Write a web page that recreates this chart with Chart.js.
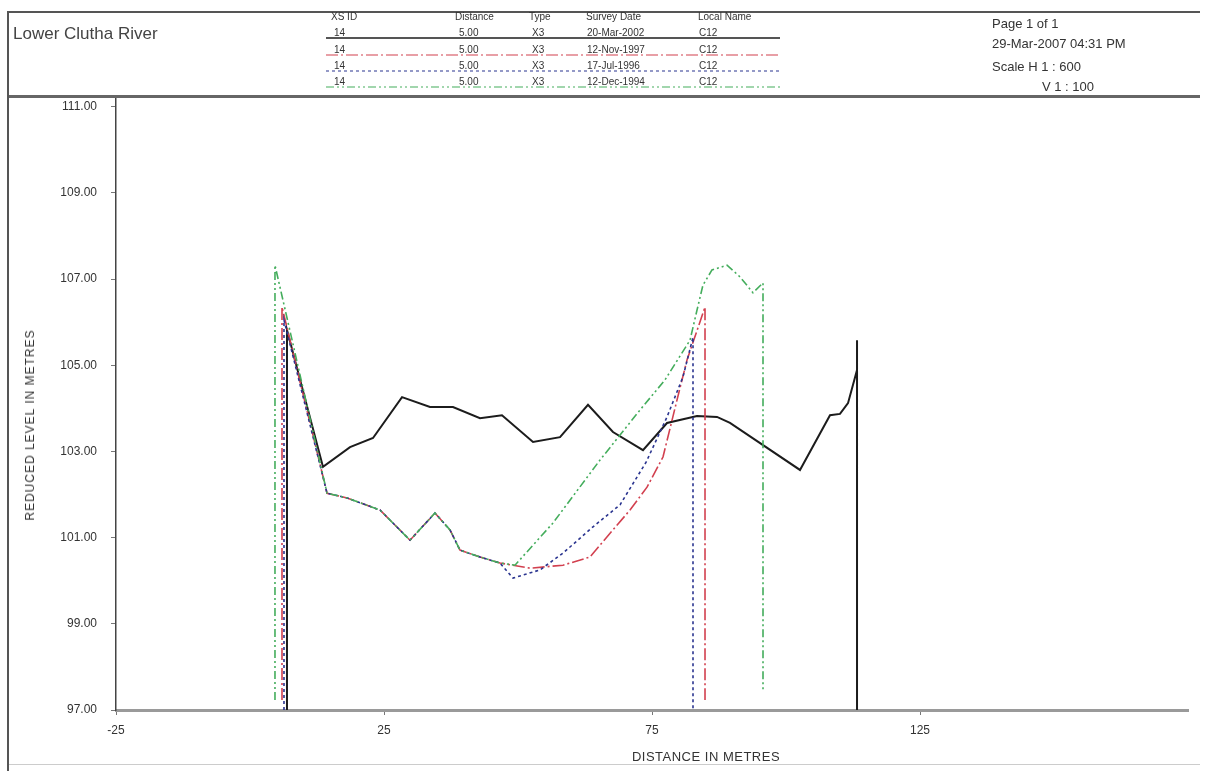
<!DOCTYPE html>
<html>
<head>
<meta charset="utf-8">
<script src="https://cdn.jsdelivr.net/npm/chart.js@4.4.1/dist/chart.umd.min.js"></script>
<style>
  body { margin: 0; background: #fff; font-family: "Liberation Sans", Arial, sans-serif; color: #333; }
  #page { position: relative; width: 1206px; height: 771px; overflow: hidden; }
  #chart { position: absolute; left: 0; top: 0; }
  .rule { position: absolute; background: #555; }
  .t { position: absolute; white-space: nowrap; line-height: 12px; }
  .sm { font-size: 10px; }
  .md { font-size: 13px; line-height: 15px; }
  #legendLines { position: absolute; left: 0; top: 0; }
</style>
</head>
<body>
<div id="page">
  <canvas id="chart" width="1206" height="771"></canvas>

  <div class="rule" style="left:7px;top:11px;width:1193px;height:2px;"></div>
  <div class="rule" style="left:7px;top:95px;width:1193px;height:3px;background:#666;"></div>
  <div class="rule" style="left:7px;top:11px;width:2px;height:760px;"></div>
  <div class="rule" style="left:9px;top:764px;width:1191px;height:1px;background:#ccc;"></div>

  <div class="t" style="left:13px;top:24px;font-size:17px;line-height:20px;color:#444;">Lower Clutha River</div>

  <svg id="legendLines" width="800" height="98"></svg>
  <div id="legendText"></div>

  <div class="t md" style="left:992px;top:16px;">Page 1 of 1</div>
  <div class="t md" style="left:992px;top:36px;">29-Mar-2007 04:31 PM</div>
  <div class="t md" style="left:992px;top:59px;">Scale H 1 : 600</div>
  <div class="t md" style="left:1042px;top:79px;">V 1 : 100</div>

  <div class="t" style="left:30px;top:425px;font-size:12px;letter-spacing:1px;transform:translate(-50%,-50%) rotate(-90deg);">REDUCED LEVEL IN METRES</div>
  <div class="t" style="left:706px;top:757px;font-size:13px;letter-spacing:0.5px;transform:translate(-50%,-50%);">DISTANCE IN METRES</div>
</div>

<script>
// tick labels
const xTickValues = [-25, 25, 75, 125];
const yTickValues = [97, 99, 101, 103, 105, 107, 109, 111];

// legend table
const legendHeader = ["XS ID", "Distance", "Type", "Survey Date", "Local Name"];
const surveyIds = ["14", "14", "14", "14"];
const surveyDistances = ["5.00", "5.00", "5.00", "5.00"];
const surveyTypes = ["X3", "X3", "X3", "X3"];
const surveyDates = ["20-Mar-2002", "12-Nov-1997", "17-Jul-1996", "12-Dec-1994"];
const surveyNames = ["C12", "C12", "C12", "C12"];

// cross section 20-Mar-2002
const survey2002X = [6.9, 6.9, 13.62, 18.66, 22.95, 28.36, 33.58, 37.87, 42.91, 47.01, 52.8, 57.84,
  63.06, 67.72, 73.32, 77.8, 83.4, 87.13, 89.55, 102.61, 108.21, 110.07, 111.57, 113.25, 113.25, 113.25];
const survey2002Y = [97, 105.82, 102.64, 103.1, 103.31, 104.26, 104.03, 104.03, 103.77, 103.84, 103.22, 103.33,
  104.08, 103.45, 103.03, 103.66, 103.82, 103.8, 103.66, 102.57, 103.84, 103.87, 104.12, 104.89, 105.58, 97];

// cross section 12-Nov-1997
const survey1997X = [5.97, 5.97, 14.37, 18.1, 24.25, 29.85, 34.51, 37.31, 39.18, 42.91, 46.64,
  52.24, 58.4, 63.43, 67.72, 70.9, 74.07, 77.05, 79.66, 81.53, 84.89, 84.89];
const survey1997Y = [97.23, 106.35, 102.03, 101.92, 101.64, 100.94, 101.57, 101.18, 100.71, 100.55, 100.41,
  100.29, 100.36, 100.55, 101.18, 101.64, 102.17, 102.87, 104.19, 105.12, 106.35, 97.23];

// cross section 17-Jul-1996
const survey1996X = [6.34, 6.34, 14.37, 18.1, 24.25, 29.85, 34.51, 37.31, 39.18, 42.91, 46.64,
  49.07, 54.1, 58.4, 63.99, 69.03, 73.9, 77.8, 80.78, 82.65, 82.65];
const survey1996Y = [97, 106.05, 102.03, 101.92, 101.64, 100.94, 101.57, 101.18, 100.71, 100.55, 100.41,
  100.06, 100.25, 100.64, 101.25, 101.76, 102.75, 103.8, 104.73, 105.65, 97];

// cross section 12-Dec-1994
const survey1994X = [4.66, 4.66, 14.37, 18.1, 24.25, 29.85, 34.51, 37.31, 39.18, 42.91, 46.64,
  49.44, 56.53, 65.3, 72.76, 77.43, 82.09, 83.4, 84.51, 86.19, 88.99, 91.42, 93.84, 95.71, 95.71];
const survey1994Y = [97.23, 107.32, 102.03, 101.92, 101.64, 100.94, 101.57, 101.18, 100.71, 100.55, 100.41,
  100.36, 101.34, 102.8, 103.96, 104.66, 105.58, 106.28, 106.86, 107.21, 107.32, 107.05, 106.68, 106.91, 97.46];

const seriesStyle = [
  { color: "#1c1c1c", width: 2, dash: [] },
  { color: "#d2404f", width: 1.6, dash: [12, 3, 2, 3] },
  { color: "#2b3590", width: 1.6, dash: [3, 3] },
  { color: "#44ad5c", width: 1.6, dash: [8, 3, 2, 3, 2, 3] },
];

function toPoints(xs, ys) {
  return xs.map((x, i) => ({ x, y: ys[i] }));
}

/**
 * Legend table in the header
 */
function buildLegend() {
  const svg = document.getElementById("legendLines");
  const box = document.getElementById("legendText");
  const cols = [331, 455, 529, 586, 698];
  const valCols = [334, 459, 532, 587, 699];
  const rowY = [33, 50, 66, 82];
  const lineY = [38, 55, 71, 87];

  legendHeader.forEach((h, i) => {
    box.insertAdjacentHTML("beforeend",
      `<div class="t sm" style="left:${cols[i]}px;top:${17 - 6}px;">${h}</div>`);
  });

  seriesStyle.forEach((s, r) => {
    const line = document.createElementNS("http://www.w3.org/2000/svg", "line");
    line.setAttribute("x1", 326);
    line.setAttribute("x2", 780);
    line.setAttribute("y1", lineY[r]);
    line.setAttribute("y2", lineY[r]);
    line.setAttribute("stroke", s.color);
    line.setAttribute("stroke-width", r === 0 ? 1.5 : 1.2);
    if (s.dash.length) line.setAttribute("stroke-dasharray", s.dash.join(" "));
    svg.appendChild(line);

    const vals = [surveyIds[r], surveyDistances[r], surveyTypes[r], surveyDates[r], surveyNames[r]];
    vals.forEach((v, i) => {
      box.insertAdjacentHTML("beforeend",
        `<div class="t sm" style="left:${valCols[i]}px;top:${rowY[r] - 6}px;">${v}</div>`);
    });
  });
}

function drawChart() {
  const sets = [
    [survey1994X, survey1994Y, 3],
    [survey1996X, survey1996Y, 2],
    [survey1997X, survey1997Y, 1],
    [survey2002X, survey2002Y, 0],
  ];

  const datasets = sets.map(([xs, ys, k]) => ({
    label: surveyDates[k],
    data: toPoints(xs, ys),
    showLine: true,
    borderColor: seriesStyle[k].color,
    borderWidth: seriesStyle[k].width,
    borderDash: seriesStyle[k].dash,
    pointRadius: 0,
    fill: false,
    tension: 0,
  }));

  new Chart(document.getElementById("chart").getContext("2d"), {
    type: "scatter",
    data: { datasets },
    options: {
      responsive: false,
      animation: false,
      layout: { padding: { left: 0, top: 98, right: 18, bottom: 0 } },
      plugins: { legend: { display: false }, tooltip: { enabled: false } },
      scales: {
        x: {
          type: "linear",
          min: -25,
          max: 175,
          afterBuildTicks: (scale) => { scale.ticks = xTickValues.map((v) => ({ value: v })); },
          afterFit: (scale) => { scale.height = 61; },
          border: { display: true, color: "#9a9a9a", width: 3 },
          grid: { drawOnChartArea: false, drawTicks: true, tickLength: 5, color: "#777" },
          ticks: { color: "#333", padding: 8, font: { family: "Liberation Sans", size: 12 }, maxRotation: 0 },
        },
        y: {
          type: "linear",
          min: 97,
          max: 111.2,
          afterBuildTicks: (scale) => { scale.ticks = yTickValues.map((v) => ({ value: v })); },
          afterFit: (scale) => { scale.width = 116; },
          border: { display: true, color: "#444", width: 1.5 },
          grid: { drawOnChartArea: false, drawTicks: true, tickLength: 5, color: "#777" },
          ticks: {
            color: "#333",
            padding: 14,
            font: { family: "Liberation Sans", size: 12 },
            callback: (v) => Number(v).toFixed(2),
          },
        },
      },
    },
  });
}

buildLegend();
drawChart();
</script>
</body>
</html>
